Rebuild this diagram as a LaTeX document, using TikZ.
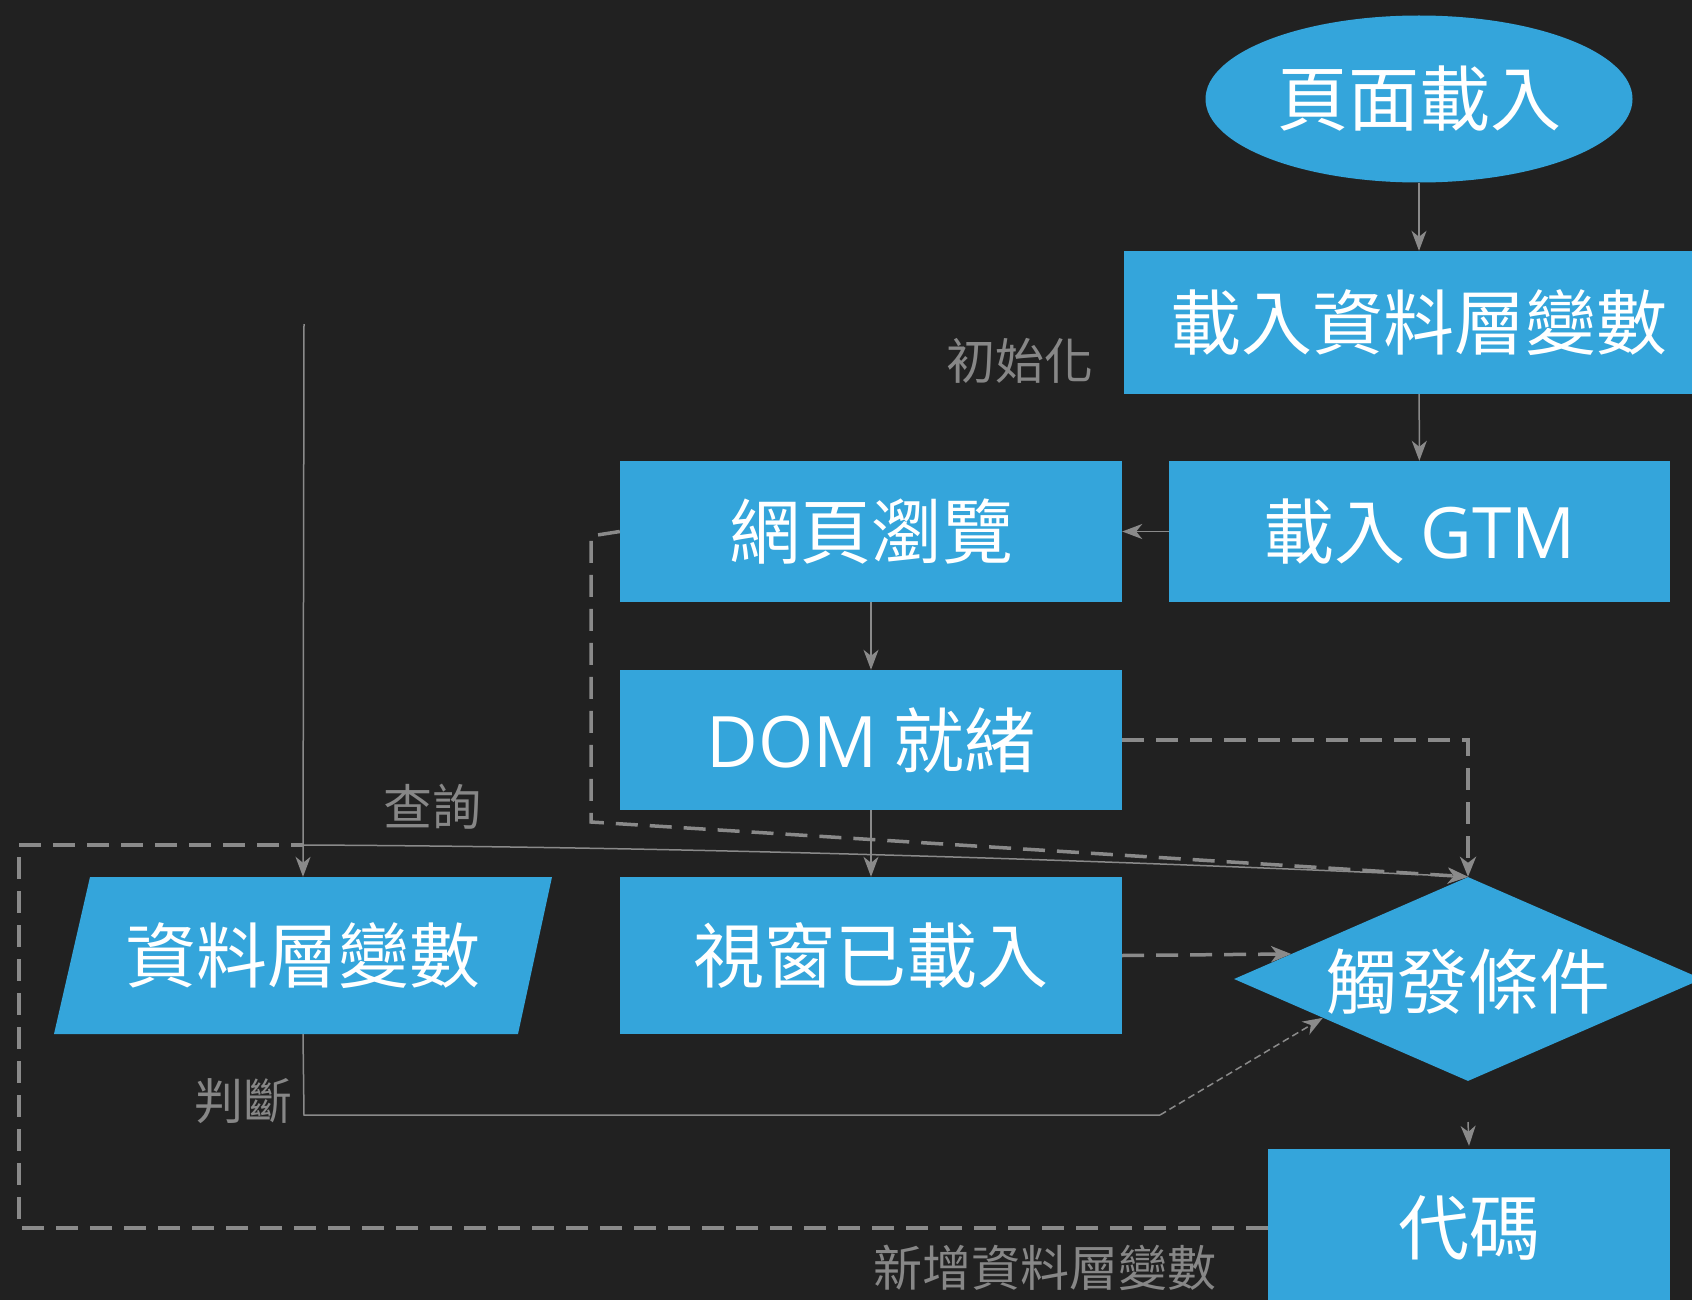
\documentclass[tikz,border=0pt]{standalone}
\usepackage{fontspec}
\newfontfamily\cjk{Noto Sans CJK TC}
\newfontfamily\lat{Open Sans}
\usetikzlibrary{shapes.geometric,arrows.meta,calc}
\definecolor{bg}{RGB}{33,33,33}
\definecolor{boxblue}{RGB}{52,165,219}
\definecolor{lineg}{RGB}{138,138,138}
\definecolor{labg}{RGB}{135,135,135}
\begin{document}
\begin{tikzpicture}[x=1pt,y=-1pt,
  blk/.style={rectangle, fill=boxblue, text=white, inner sep=0pt, font=\cjk\fontsize{71}{80}\selectfont},
  lab/.style={text=labg, inner sep=0pt, font=\cjk\fontsize{49}{56}\selectfont},
  conn/.style={draw=lineg, line width=1.5pt, -{Stealth[length=20pt,width=15pt,inset=6pt]}},
  thinline/.style={draw=lineg, line width=1.5pt},
  dconn/.style={draw=lineg, line width=3.5pt, dash pattern=on 22pt off 12pt, -{Stealth[length=20pt,width=16pt,inset=6pt]}},
  dline/.style={draw=lineg, line width=3.5pt, dash pattern=on 22pt off 12pt},
  tdconn/.style={draw=lineg, line width=1.5pt, dash pattern=on 7pt off 4pt, -{Stealth[length=20pt,width=15pt,inset=6pt]}}
]
\useasboundingbox (0,0) rectangle (1692,1300);
\fill[bg] (0,0) rectangle (1692,1300);

% nodes
\node[blk, ellipse, minimum width=427pt, minimum height=167pt] (start) at (1419,99) {頁面載入};
\node[blk, minimum width=590pt, minimum height=143pt] (loaddl) at (1419,322.5) {載入資料層變數};
\node[blk, minimum width=501pt, minimum height=141pt] (gtm) at (1419.5,531.5) {載入 {\lat GTM}};
\node[blk, minimum width=502pt, minimum height=141pt] (browse) at (871,531.5) {網頁瀏覽};
\node[blk, minimum width=502pt, minimum height=140pt] (dom) at (871,740) {{\lat DOM} 就緒};
\node[blk, minimum width=502pt, minimum height=157pt] (win) at (871,955.5) {視窗已載入};
\fill[boxblue] (90,877) -- (552,877) -- (518,1034) -- (54,1034) -- cycle;
\node[blk, fill=none, minimum width=498pt, minimum height=157pt] (dl) at (303,955.5) {資料層變數};
\node[diamond, fill=boxblue, minimum width=468pt, minimum height=204pt, inner sep=0pt] (trig) at (1468,979) {};
\node[blk, fill=none] (trigtxt) at (1468,982) {觸發條件};
\node[blk, minimum width=402pt, minimum height=158pt] (code) at (1469,1228) {代碼};

% labels
\node[lab] (linit) at (1020,361) {初始化};
\node[lab] (lquery) at (432,807) {查詢};
\node[lab] (ljudge) at (243,1101) {判斷};
\node[lab] (ladd) at (1045,1268) {新增資料層變數};

% coordinates
\coordinate (qtop) at (304,324);
\coordinate (merge) at (304,845);
\coordinate (bcorner) at (591,536);
\coordinate (bdown) at (591,822);
\coordinate (jdown) at (304,1115);
\coordinate (jright) at (1160,1115);
\coordinate (lpL) at (19,1228);
\coordinate (lpT) at (19,845);
\coordinate (codearr) at (1468,1122);

% main flow
\draw[conn] (start) -- (loaddl);
\draw[conn] (loaddl) -- (gtm);
\draw[conn] (gtm) -- (browse);
\draw[conn] (browse) -- (dom);
\draw[conn] (dom) -- (win);
\draw[conn] (codearr) -- ($(code.north)+(0,-3)$);

% init line into data layer variable
\draw[conn] (qtop) -- (dl.north);
% query line
\draw[conn] (merge) .. controls (700,847) and (1100,860) .. (trig.north);
% page view dashed
\draw[dconn] (browse.west) -- (bcorner) -- (bdown) -- (trig.north);
% DOM ready dashed
\draw[dconn] (dom.east) -| (trig.north);
% window loaded dashed
\draw[dconn] (win.east) -- ($(trig.west)!0.245!(trig.north)$);
% judge line
\draw[thinline] (dl.south) -- (jdown) -- (jright);
\draw[tdconn] (jright) -- ($(trig.west)!0.38!(trig.south)$);
% add data layer loop
\draw[dline] (code.west |- lpL) -- (lpL) -- (lpT) -- (merge);
\end{tikzpicture}
\end{document}
